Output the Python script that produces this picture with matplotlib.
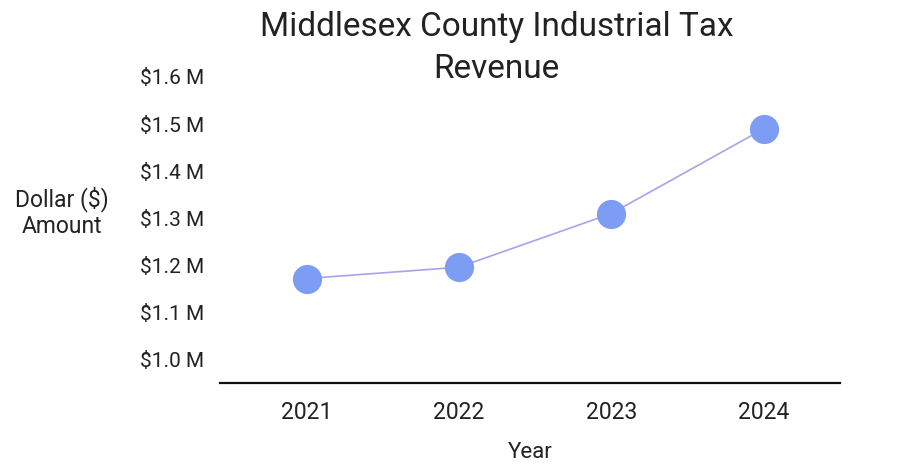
import matplotlib
matplotlib.use("Agg")
import matplotlib.pyplot as plt
from matplotlib.ticker import FuncFormatter

years = [2021, 2022, 2023, 2024]
revenue = [1.172, 1.196, 1.31, 1.49]  # millions of dollars
y_ticks = [1.0, 1.1, 1.2, 1.3, 1.4, 1.5, 1.6]

plt.rcParams['font.family'] = ['Roboto', 'DejaVu Sans']

fig = plt.figure(figsize=(9.23, 4.66), dpi=100)
ax = fig.add_axes([0.238, 0.178, 0.672, 0.677])

ax.plot(years, revenue, color='#a9a2ec', linewidth=1.2, zorder=2)
ax.plot(years, revenue, 'o', color='#7d9cf4', markersize=21, markeredgewidth=0, zorder=3)

ax.set_xlim(2020.43, 2024.5)
ax.set_ylim(0.95, 1.62)
ax.set_xticks(years)
ax.set_xticklabels([str(y) for y in years])
ax.set_yticks(y_ticks)
ax.yaxis.set_major_formatter(FuncFormatter(lambda v, p: "$%.1f M" % v))
ax.tick_params(axis='both', length=0, colors='#222222')
ax.tick_params(axis='y', pad=11, labelsize=15)
ax.tick_params(axis='x', pad=13, labelsize=16.5)

for s in ['top', 'right', 'left']:
    ax.spines[s].set_visible(False)
ax.spines['bottom'].set_linewidth(1.6)
ax.spines['bottom'].set_color('#111111')

fig.text(0.538, 0.942, "Middlesex County Industrial Tax", ha='center', va='center',
         fontsize=24, color='#222222')
fig.text(0.538, 0.853, "Revenue", ha='center', va='center', fontsize=24, color='#222222')
fig.text(0.067, 0.545, "Dollar ($)\nAmount", ha='center', va='center', fontsize=16.5,
         color='#222222', linespacing=1.2)
fig.text(0.574, 0.03, "Year", ha='center', va='center', fontsize=16, color='#222222')

fig.savefig("out.png", dpi=100)
